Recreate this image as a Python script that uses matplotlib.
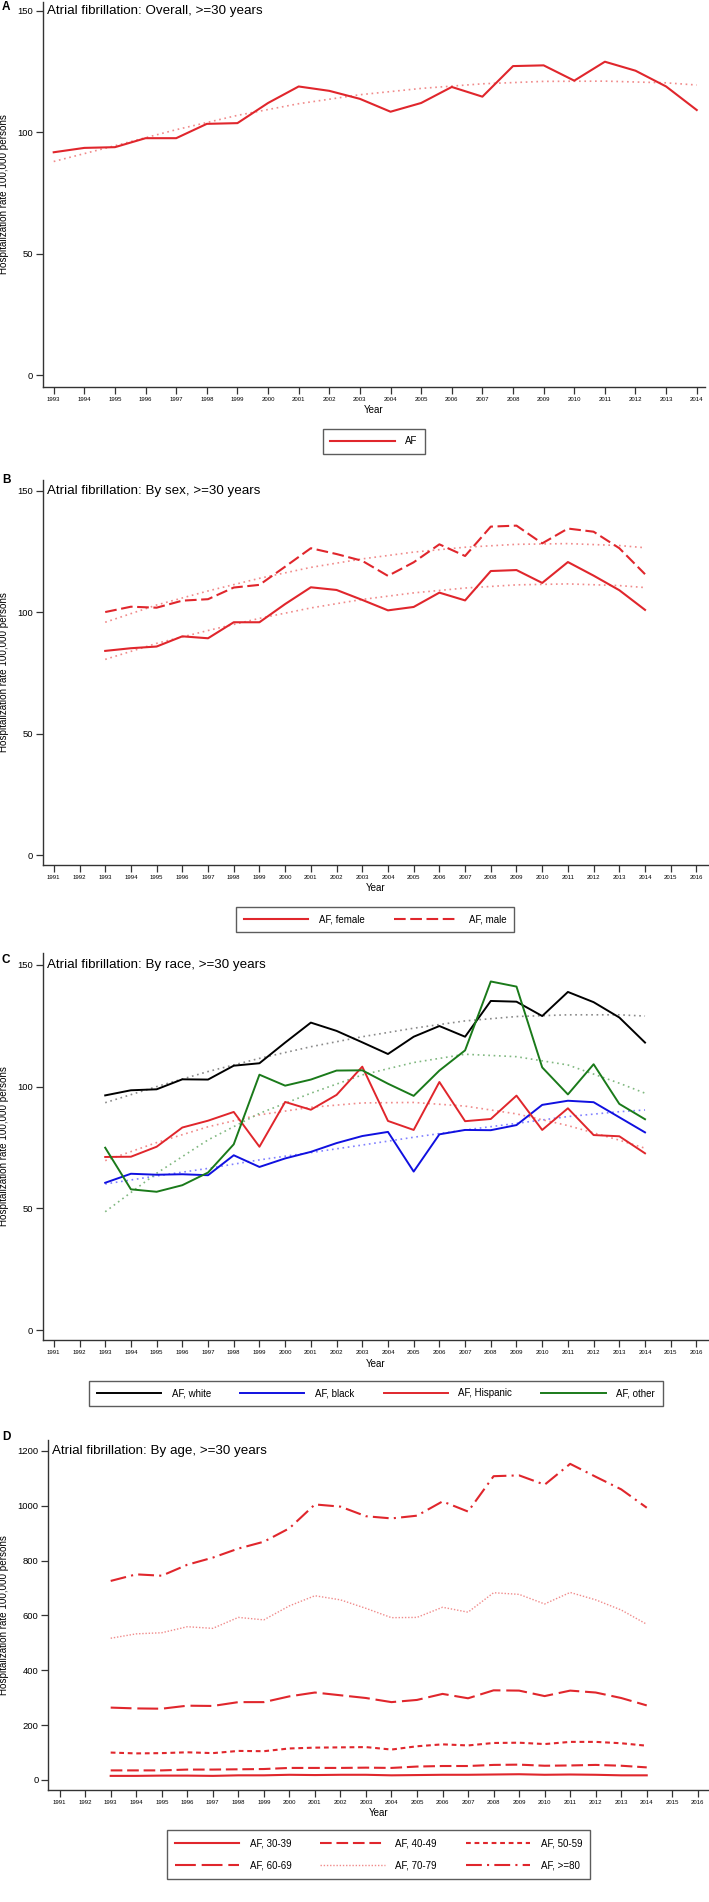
import matplotlib
matplotlib.use("Agg")
from matplotlib import pyplot as plt
from matplotlib.lines import Line2D
import matplotlib.transforms as mtransforms

plt.rcParams['font.family'] = ['Liberation Sans', 'DejaVu Sans']

years = list(range(1993, 2015))
trend_years = [1993, 1995, 1997, 1999, 2001, 2003, 2005, 2007, 2009, 2011, 2013, 2014]

# Panel A: overall
af_overall = [91.8, 93.6, 93.9, 97.6, 97.6, 103.5, 103.8, 112.1, 118.9, 117.1, 113.8,
              108.5, 112.1, 118.7, 114.7, 127.3, 127.6, 121.3, 129.1, 125.4, 118.9, 109.2]
af_overall_trend = [88.0, 94.5, 101.1, 107.0, 111.8, 115.5, 118.1, 120.0, 121.0, 121.1, 120.4, 119.5]

# Panel B: by sex
af_female = [84.1, 85.2, 85.9, 90.1, 89.3, 95.9, 95.9, 103.4, 110.3, 109.2, 105.1,
             100.8, 102.2, 108.1, 104.9, 117.0, 117.4, 112.1, 120.7, 115.1, 109.1, 101.0]
af_male = [100.1, 102.3, 101.9, 104.8, 105.4, 110.2, 111.3, 118.8, 126.4, 124.0, 121.2,
           115.0, 120.6, 128.0, 123.2, 135.3, 135.7, 128.4, 134.5, 133.2, 126.4, 115.7]
af_female_trend = [80.6, 87.2, 92.5, 97.5, 101.8, 105.3, 108.0, 110.0, 111.3, 111.7, 111.0, 110.2]
af_male_trend = [95.9, 103.0, 108.8, 114.0, 118.5, 122.0, 124.8, 126.8, 128.0, 128.3, 127.5, 126.6]

# Panel C: by race
af_white = [96.4, 98.5, 98.9, 103.0, 102.9, 108.6, 109.6, 118.1, 126.3, 122.9, 118.2,
            113.4, 120.5, 124.9, 120.5, 135.2, 134.9, 129.0, 138.9, 134.7, 128.4, 118.1]
af_black = [60.5, 64.2, 63.8, 64.0, 63.6, 71.8, 67.0, 70.5, 73.2, 76.8, 79.7,
            81.4, 65.1, 80.4, 82.2, 82.1, 84.2, 92.5, 94.2, 93.6, 87.4, 81.2]
af_hispanic = [71.1, 71.2, 75.3, 83.2, 86.0, 89.6, 75.3, 93.7, 90.5, 96.6, 108.2,
               85.9, 82.2, 101.9, 85.8, 86.7, 96.3, 82.2, 91.1, 80.1, 79.6, 72.6]
af_other = [74.9, 57.8, 56.8, 59.5, 64.7, 76.3, 104.9, 100.4, 102.9, 106.6, 106.7,
            101.2, 96.2, 106.6, 114.9, 143.2, 141.1, 107.9, 96.8, 109.2, 92.9, 86.6]
af_white_trend = [93.4, 100.0, 106.2, 111.6, 116.4, 120.5, 124.0, 127.0, 128.8, 129.5, 129.5, 129.0]
af_black_trend = [60.0, 63.3, 66.4, 69.9, 72.9, 76.0, 79.2, 82.2, 84.9, 87.7, 89.7, 90.4]
af_hispanic_trend = [69.6, 77.0, 83.5, 88.4, 91.5, 93.3, 93.5, 92.0, 88.8, 84.0, 78.0, 74.7]
af_other_trend = [48.6, 64.4, 78.1, 89.0, 97.3, 104.8, 109.9, 113.3, 112.3, 108.9, 101.4, 97.3]

# Panel D: by age
af_30_39 = [15, 15, 16, 16, 15, 17, 17, 19, 18, 19, 19, 17, 18, 19, 19, 20, 21, 19, 20, 19, 17, 17]
af_40_49 = [35, 35, 35, 38, 38, 39, 40, 44, 44, 44, 45, 44, 49, 51, 51, 55, 56, 52, 53, 55, 52, 46]
af_50_59 = [100, 97, 98, 101, 98, 106, 105, 115, 118, 119, 120, 111, 123, 130, 126, 135, 136, 131, 139, 139, 134, 125]
af_60_69 = [264, 261, 260, 271, 270, 284, 284, 305, 319, 309, 299, 284, 292, 314, 298, 327, 326, 306, 326, 319, 299, 272]
af_70_79 = [517, 533, 537, 559, 553, 593, 584, 635, 672, 657, 626, 592, 593, 630, 612, 683, 677, 642, 684, 657, 620, 568]
af_80 = [726, 750, 745, 785, 811, 844, 869, 918, 1005, 997, 962, 954, 964, 1016, 979, 1108, 1111, 1077, 1153, 1106, 1060, 993]

W, H = 709, 1902
RED = '#e0262c'
RED_T = '#f08a8a'
AX_COL = '#333333'
YLABEL = 'Hospitalization rate 100,000 persons'
TREND = (0, (1, 2.2))

fig = plt.figure(figsize=(W / 100, H / 100), dpi=100)


def make_axes(l, t, r, b):
    return fig.add_axes([l / W, 1 - b / H, (r - l) / W, (b - t) / H])


def style(ax, xticks, yticks, title, title_y, letter, letter_y, xlab_y):
    for s in ['top', 'right']:
        ax.spines[s].set_visible(False)
    for s in ['left', 'bottom']:
        ax.spines[s].set_color(AX_COL)
        ax.spines[s].set_linewidth(1.0)
    ax.set_xticks(xticks)
    ax.set_xticklabels([str(x) for x in xticks], fontsize=4.3)
    ax.set_yticks(yticks)
    ax.set_yticklabels([str(y) for y in yticks], fontsize=6.8)
    ax.tick_params(axis='both', direction='out', length=5, width=0.9, color=AX_COL)
    ax.tick_params(axis='x', pad=2)
    ax.tick_params(axis='y', pad=2)
    tr = mtransforms.blended_transform_factory(ax.transAxes, ax.transData)
    ax.text(0.006, title_y, title, transform=tr, fontsize=9.6, va='center', ha='left')
    fig.text(2 / W, 1 - letter_y / H, letter, fontsize=8.5, fontweight='bold', va='center')
    pos = ax.get_position()
    fig.text(4.5 / W, pos.y0 + pos.height / 2, YLABEL, rotation=90, fontsize=7.1,
             va='center', ha='center')
    fig.text(pos.x0 + pos.width / 2, 1 - xlab_y / H, 'Year', fontsize=7, ha='center', va='center')


def add_legend(handles, labels, cx, cy, ncol, **kw):
    leg = fig.legend(handles, labels, loc='center', bbox_to_anchor=(cx / W, 1 - cy / H),
                     ncol=ncol, fontsize=7, frameon=True, fancybox=False,
                     handlelength=6.6, handletextpad=1.1, columnspacing=3.0,
                     borderpad=0.8, **kw)
    leg.get_frame().set_edgecolor(AX_COL)
    leg.get_frame().set_linewidth(1.0)
    return leg


# ---- Panel A ----
axA = make_axes(43, 2, 705, 387)
axA.plot(trend_years, af_overall_trend, color=RED_T, lw=1.2, linestyle=TREND)
axA.plot(years, af_overall, color=RED, lw=1.5)
axA.set_xlim(1992.65, 2014.27)
axA.set_ylim(-4.9, 153.7)
style(axA, list(range(1993, 2015)), [0, 50, 100, 150],
      'Atrial fibrillation: Overall, >=30 years', 150, 'A', 7, 410)
add_legend([Line2D([], [], color=RED, lw=1.5)], ['AF'], 374, 441.5, 1)

all_years = list(range(1991, 2017))

# ---- Panel B ----
axB = make_axes(43, 480, 708, 865)
axB.plot(trend_years, af_female_trend, color=RED_T, lw=1.2, linestyle=TREND)
axB.plot(trend_years, af_male_trend, color=RED_T, lw=1.2, linestyle=TREND)
lf, = axB.plot(years, af_female, color=RED, lw=1.5)
lm, = axB.plot(years, af_male, color=RED, lw=1.5, linestyle=(0, (5.6, 2.2)))
axB.set_xlim(1990.58, 2016.45)
axB.set_ylim(-4.1, 154.5)
style(axB, all_years, [0, 50, 100, 150],
      'Atrial fibrillation: By sex, >=30 years', 150, 'B', 480, 888)
add_legend([lf, lm], ['AF, female', 'AF, male'], 375, 919.5, 2)

# ---- Panel C ----
axC = make_axes(43, 953, 708, 1340)
axC.plot(trend_years, af_white_trend, color='#8a8a8a', lw=1.2, linestyle=TREND)
axC.plot(trend_years, af_black_trend, color='#8080ff', lw=1.2, linestyle=TREND)
axC.plot(trend_years, af_hispanic_trend, color=RED_T, lw=1.2, linestyle=TREND)
axC.plot(trend_years, af_other_trend, color='#80b880', lw=1.2, linestyle=TREND)
lw_, = axC.plot(years, af_white, color='black', lw=1.4)
lb_, = axC.plot(years, af_black, color='#1010e0', lw=1.4)
lh_, = axC.plot(years, af_hispanic, color=RED, lw=1.4)
lo_, = axC.plot(years, af_other, color='#1a7a1a', lw=1.4)
axC.set_xlim(1990.58, 2016.45)
axC.set_ylim(-4.1, 154.9)
style(axC, all_years, [0, 50, 100, 150],
      'Atrial fibrillation: By race, >=30 years', 150, 'C', 960, 1364)
add_legend([lw_, lb_, lh_, lo_], ['AF, white', 'AF, black', 'AF, Hispanic', 'AF, other'],
           376, 1393.5, 4)

# ---- Panel D ----
axD = make_axes(48.4, 1440, 708, 1790)
d1, = axD.plot(years, af_30_39, color=RED, lw=1.5)
d2, = axD.plot(years, af_40_49, color=RED, lw=1.5, linestyle=(0, (5.6, 2.3)))
d3, = axD.plot(years, af_50_59, color=RED, lw=1.5, linestyle=(0, (2.3, 1.8)))
d4, = axD.plot(years, af_60_69, color=RED, lw=1.5, linestyle=(0, (10, 2.8)))
d5, = axD.plot(years, af_70_79, color=RED_T, lw=1.0, linestyle=(0, (1, 1.3)))
d6, = axD.plot(years, af_80, color=RED, lw=1.5, linestyle=(0, (7.6, 2.5, 1, 2.5)))
axD.set_xlim(1990.56, 2016.4)
axD.set_ylim(-36.5, 1240)
style(axD, all_years, [0, 200, 400, 600, 800, 1000, 1200],
      'Atrial fibrillation: By age, >=30 years', 1200, 'D', 1437, 1813)
add_legend([d1, d4, d2, d5, d3, d6],
           ['AF, 30-39', 'AF, 60-69', 'AF, 40-49', 'AF, 70-79', 'AF, 50-59', 'AF, >=80'],
           378.5, 1854.5, 3, labelspacing=1.3)

fig.savefig('out.png', dpi=100)
